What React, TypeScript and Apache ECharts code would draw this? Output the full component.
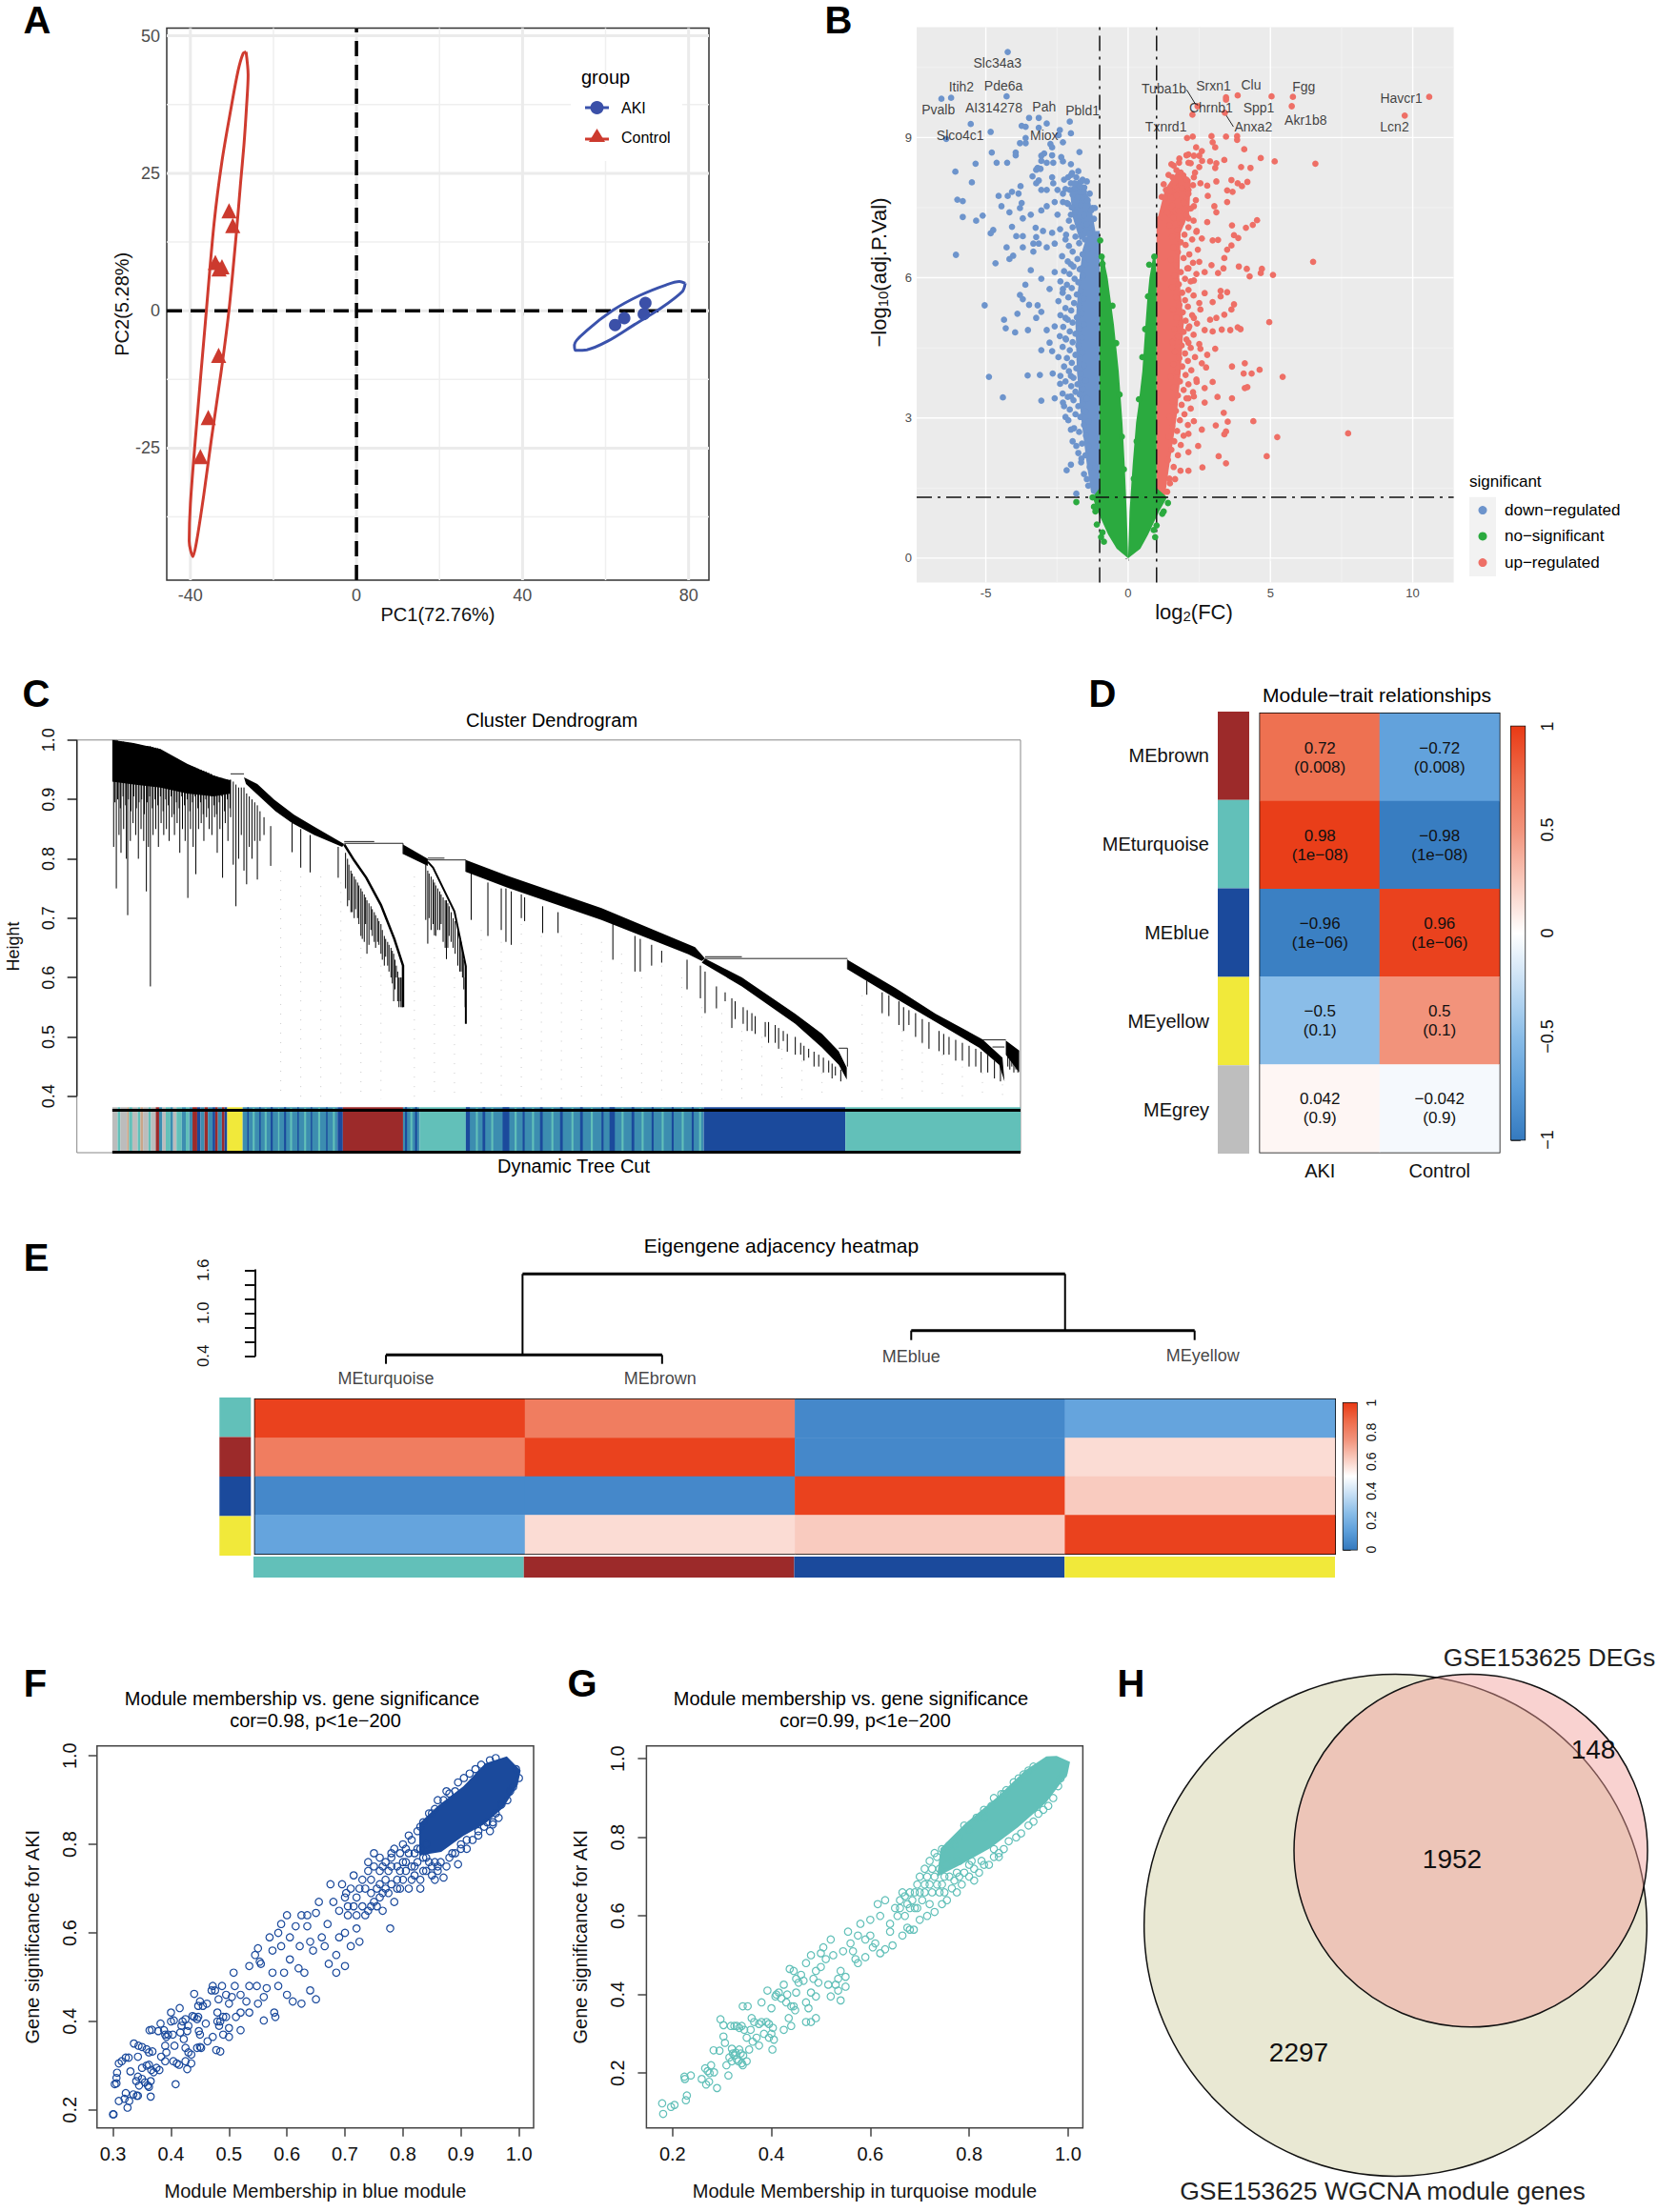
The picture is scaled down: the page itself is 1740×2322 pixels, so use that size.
import React, { useEffect, useRef } from "react";
import * as echarts from "echarts";

const FONT = "Liberation Sans";

// ---------- Panel A ----------
const pcaControl = [[-30.7, 18.2], [-29.8, 15.5], [-34, 8.8], [-32.4, 8.0], [-33.1, 7.6], [-33.2, -8.1], [-35.7, -19.4], [-37.6, -26.5]];
const pcaAki = [[62.3, -2.6], [64.5, -1.35], [69.2, -0.6], [69.6, 1.4]];
const ellipseControl = [[-26.6, 47.1], [-26.1, 42.9], [-26.5, 36.9], [-27.1, 30.2], [-27.9, 23.4], [-28.9, 14.4], [-30.7, 0.15], [-32.6, -11.1], [-34.9, -23.1], [-36.8, -33.6], [-38.5, -41.9], [-39.4, -44.7], [-40.3, -41.9], [-40, -35.1], [-38.7, -22.4], [-36.4, -2.1], [-34.3, 15.9], [-32.4, 27.2], [-30.2, 36.9], [-28.5, 43.7], [-27.3, 46.8], [-26.6, 47.1]];
const ellipseAki = [[79.2, 5.0], [78.5, 3.5], [73.4, 0.5], [67.0, -2.5], [60.6, -5.5], [55.5, -7.1], [52.7, -7.2], [52.5, -6.2], [55.5, -3.6], [61.9, 0.15], [68.3, 2.8], [74.6, 4.7], [77.8, 5.3], [79.2, 5.0]];

// ---------- Panel B ----------
const volcanoDown = [[-4.23, 10.83], [-6.22, 9.85], [-6.56, 9.83], [-4.27, 9.88], [-5.53, 9.29], [-4.83, 9.12], [-6.39, 8.97], [-3.48, 9.42], [-3.14, 9.42], [-2.86, 9.3], [-3.74, 9.25], [-3.6, 9.23], [-3.14, 9.21], [-2.05, 9.34], [-2.01, 9.09], [-2.4, 9.16], [-2.44, 9.05], [-3.6, 8.99], [-3.8, 8.88], [-3.6, 8.88], [-2.73, 8.86], [-2.67, 8.79], [-2.29, 8.9], [-4.79, 8.68], [-3.95, 8.68], [-3.95, 8.62], [-3.05, 8.61], [-2.95, 8.66], [-2.67, 8.62], [-1.71, 8.69], [-5.36, 8.44], [-4.62, 8.46], [-4.25, 8.46], [-3.05, 8.5], [-2.86, 8.46], [-2.63, 8.46], [-2.35, 8.58], [-2.29, 8.49], [-2.01, 8.43], [-6.07, 8.27], [-3.18, 8.35], [-3.23, 8.31], [-3.08, 8.33], [-3.36, 8.17], [-2.67, 8.15], [-1.97, 8.24], [-5.49, 8.04], [-3.78, 7.96], [-3.14, 8.08], [-3.23, 8.02], [-3.05, 7.88], [-2.86, 7.88], [-2.63, 8.02], [-2.48, 7.88], [-2.29, 7.8], [-2.01, 8.02], [-2.11, 8.15], [-1.82, 8.15], [-1.64, 8.06], [-1.45, 8.06], [-1.54, 7.93], [-1.82, 7.93], [-2.05, 7.88], [-4.08, 7.84], [-4.23, 7.75], [-4.55, 7.75], [-3.85, 7.8], [-6.0, 7.67], [-5.81, 7.64], [-4.45, 7.53], [-3.74, 7.6], [-3.8, 7.49], [-3.42, 7.35], [-2.86, 7.53], [-3.05, 7.44], [-2.58, 7.62], [-2.29, 7.62], [-2.11, 7.58], [-4.17, 7.4], [-3.7, 7.27], [-5.11, 7.33], [-5.34, 7.22], [-5.81, 7.3], [-2.48, 7.35], [-2.01, 7.35], [-1.64, 7.71], [-1.35, 7.8], [-1.26, 7.49], [-1.17, 7.49], [-3.25, 7.07], [-4.08, 7.09], [-4.74, 7.02], [-4.83, 6.95], [-3.93, 6.89], [-3.7, 6.89], [-2.99, 7.0], [-2.67, 6.96], [-2.39, 7.04], [-3.23, 6.87], [-3.33, 6.73], [-3.14, 6.73], [-4.27, 6.65], [-3.7, 6.65], [-6.05, 6.49], [-4.04, 6.47], [-4.17, 6.4], [-4.66, 6.31], [-3.33, 6.56], [-2.86, 6.65], [-2.58, 6.73], [-2.2, 6.82], [-3.42, 6.16], [-3.61, 5.85], [-3.05, 5.98], [-2.58, 6.12], [-2.01, 6.29], [-1.64, 6.2], [-3.8, 5.63], [-3.7, 5.54], [-3.48, 5.42], [-2.76, 5.76], [-2.29, 5.76], [-5.04, 5.41], [-3.18, 5.41], [-3.05, 5.27], [-3.89, 5.23], [-3.23, 5.14], [-4.36, 5.1], [-4.3, 4.92], [-3.97, 4.83], [-3.52, 4.88], [-2.86, 4.88], [-2.58, 4.96], [-2.2, 5.14], [-2.76, 4.61], [-3.05, 4.45], [-2.67, 4.43], [-2.2, 4.7], [-4.89, 3.88], [-3.53, 3.91], [-3.1, 3.92], [-2.65, 3.95], [-2.39, 3.73], [-2.01, 3.9], [-4.4, 3.44], [-3.05, 3.37], [-2.58, 3.42], [-2.29, 3.33], [-2.01, 3.46], [-2.2, 3.02], [-2.01, 2.75], [-1.82, 2.4], [-2.01, 2.0], [-2.16, 1.88], [-1.82, 1.38], [-1.64, 2.13], [-1.45, 1.69],
[-1.4, 1.55], [-1.55, 1.8], [-1.35, 1.95], [-1.65, 2.05], [-1.5, 2.2], [-1.75, 2.25], [-1.4, 2.4], [-1.62, 2.45], [-1.95, 2.5], [-1.48, 2.62], [-1.72, 2.7], [-1.9, 2.78], [-1.55, 2.85], [-1.38, 2.92], [-2.1, 2.95], [-1.68, 3.02], [-1.85, 3.08], [-1.5, 3.14], [-2.05, 3.18], [-1.75, 3.25], [-1.6, 3.3], [-2.25, 3.25], [-1.92, 3.38], [-1.45, 3.42], [-2.12, 3.45], [-1.7, 3.5], [-1.85, 3.56], [-2.3, 3.52], [-1.58, 3.62], [-2.0, 3.68], [-1.78, 3.72], [-2.2, 3.78], [-1.5, 3.8], [-1.92, 3.86], [-2.38, 3.9], [-1.65, 3.95], [-2.08, 4.0], [-1.82, 4.06], [-1.55, 4.12], [-2.25, 4.1], [-1.98, 4.18], [-1.7, 4.25], [-2.15, 4.28], [-2.45, 4.3], [-1.85, 4.35], [-1.6, 4.4], [-2.05, 4.45], [-2.3, 4.52], [-1.75, 4.55], [-1.95, 4.62], [-2.18, 4.68], [-1.62, 4.72], [-2.4, 4.75], [-1.85, 4.8], [-2.05, 4.85], [-1.72, 4.92], [-2.28, 4.95], [-1.55, 5.0], [-1.95, 5.04], [-2.12, 5.1], [-1.8, 5.15], [-2.38, 5.2], [-1.62, 5.24], [-2.0, 5.3], [-2.2, 5.35], [-1.72, 5.4], [-1.9, 5.46], [-2.45, 5.5], [-1.55, 5.55], [-2.1, 5.58], [-1.8, 5.64], [-2.3, 5.68], [-1.65, 5.72], [-1.98, 5.78], [-2.15, 5.85], [-1.75, 5.9], [-2.38, 5.92], [-1.88, 5.98], [-1.58, 6.04], [-2.06, 6.08], [-2.25, 6.14], [-1.7, 6.18], [-1.92, 6.24], [-1.5, 6.3], [-2.12, 6.35], [-1.78, 6.4], [-2.32, 6.46], [-1.6, 6.5], [-1.95, 6.56], [-1.42, 6.62], [-2.08, 6.68], [-1.72, 6.74], [-1.52, 6.82], [-1.85, 6.88], [-2.18, 6.92], [-1.35, 6.95], [-1.65, 7.02], [-1.95, 7.08], [-1.45, 7.14], [-1.75, 7.2], [-1.2, 7.26], [-2.08, 7.22], [-1.55, 7.34], [-1.85, 7.4], [-1.3, 7.44], [-1.98, 7.5], [-1.65, 7.55], [-2.15, 7.6], [-1.42, 7.66], [-1.78, 7.72], [-1.95, 7.78], [-1.55, 7.84], [-2.2, 7.9], [-1.7, 7.96], [-1.88, 8.02], [-1.6, 8.1], [-2.0, 8.2], [-1.75, 8.28], [-2.25, 8.1]];
const volcanoUp = [[10.58, 9.87], [9.72, 9.47], [5.79, 9.87], [5.75, 9.67], [5.04, 9.88], [3.85, 9.9], [3.44, 9.86], [3.44, 9.81], [3.4, 9.53], [2.44, 9.67], [2.26, 9.49], [6.58, 8.44], [2.07, 8.99], [2.27, 9.02], [2.93, 9.03], [3.44, 9.02], [3.83, 9.03], [3.83, 8.95], [2.97, 8.9], [3.06, 8.79], [2.39, 8.79], [4.08, 8.75], [2.59, 8.71], [2.12, 8.64], [2.31, 8.61], [2.5, 8.61], [2.88, 8.49], [3.38, 8.52], [3.1, 8.45], [4.66, 8.56], [5.15, 8.49], [3.97, 8.37], [4.3, 8.35], [3.06, 8.35], [1.52, 8.43], [1.79, 8.46], [2.12, 8.46], [2.5, 8.37], [1.56, 8.15], [1.94, 8.19], [2.31, 8.15], [2.54, 8.02], [3.1, 8.06], [3.63, 8.09], [3.85, 8.02], [4.19, 8.05], [4.0, 7.96], [2.78, 7.97], [1.33, 7.88], [1.65, 7.97], [2.12, 7.88], [3.48, 7.87], [3.67, 7.84], [2.8, 7.75], [1.18, 7.73], [1.56, 7.71], [1.94, 7.62], [2.31, 7.53], [3.48, 7.62], [3.03, 7.53], [3.1, 7.4], [2.78, 7.19], [4.53, 7.23], [4.38, 7.13], [4.14, 7.07], [3.65, 7.12], [2.12, 7.27], [1.47, 7.35], [1.84, 7.18], [2.41, 7.0], [3.72, 6.91], [3.87, 6.85], [3.16, 6.81], [2.97, 6.8], [2.59, 6.84], [3.63, 6.69], [3.48, 6.6], [3.38, 6.42], [6.5, 6.34], [5.09, 6.06], [4.7, 6.19], [4.66, 6.1], [4.17, 6.19], [3.89, 6.24], [4.27, 6.03], [3.35, 6.2], [3.16, 6.1], [2.93, 6.27], [2.5, 6.34], [2.69, 6.12], [2.12, 6.2], [2.31, 5.94], [3.25, 5.72], [3.48, 5.69], [3.25, 5.6], [2.69, 5.67], [2.97, 5.48], [3.72, 5.43], [3.63, 5.32], [3.38, 5.21], [3.1, 5.14], [2.88, 5.1], [2.54, 5.32], [2.31, 5.14], [4.96, 5.05], [3.85, 4.94], [3.95, 4.9], [3.59, 4.88], [3.29, 4.89], [2.97, 4.85], [2.69, 4.88], [2.12, 4.92], [3.06, 4.48], [2.54, 4.48], [2.78, 4.35], [2.12, 4.61], [3.65, 4.1], [4.1, 4.17], [2.59, 4.17], [2.74, 4.08], [4.06, 3.95], [4.34, 3.95], [4.62, 4.03], [5.43, 3.88], [4.19, 3.66], [4.1, 3.64], [2.97, 3.77], [2.41, 3.77], [2.69, 3.64], [2.31, 3.46], [3.14, 3.45], [3.65, 3.42], [2.69, 3.33], [2.12, 3.42], [3.36, 3.11], [4.4, 2.93], [3.5, 2.92], [3.08, 2.84], [3.44, 2.71], [3.38, 2.65], [7.73, 2.67], [5.24, 2.59], [2.59, 2.75], [2.31, 2.93], [2.12, 2.66], [2.46, 2.4], [2.12, 2.27], [4.87, 2.18], [3.18, 2.18], [3.44, 2.03], [2.61, 1.94], [2.12, 1.87], [1.84, 1.87], [1.65, 1.69], [1.47, 1.6], [1.37, 1.42],
[1.45, 1.7], [1.6, 1.95], [1.4, 2.1], [1.75, 2.2], [1.52, 2.32], [1.85, 2.42], [1.62, 2.5], [1.42, 2.6], [1.95, 2.62], [1.72, 2.72], [1.55, 2.82], [2.1, 2.85], [1.82, 2.95], [1.45, 3.02], [1.98, 3.08], [1.68, 3.15], [2.2, 3.2], [1.88, 3.28], [1.55, 3.35], [2.05, 3.42], [1.75, 3.48], [2.28, 3.55], [1.95, 3.6], [1.6, 3.65], [2.12, 3.72], [1.82, 3.78], [2.4, 3.82], [1.5, 3.88], [2.02, 3.92], [1.72, 3.98], [2.22, 4.02], [1.9, 4.1], [1.58, 4.15], [2.1, 4.22], [1.8, 4.28], [2.35, 4.3], [2.0, 4.38], [1.65, 4.42], [2.2, 4.5], [1.88, 4.55], [2.5, 4.58], [1.55, 4.62], [2.05, 4.68], [1.75, 4.74], [2.3, 4.78], [1.95, 4.84], [1.62, 4.9], [2.15, 4.96], [1.85, 5.02], [2.42, 5.02], [2.02, 5.08], [1.7, 5.14], [2.25, 5.2], [1.92, 5.26], [1.58, 5.32], [2.1, 5.38], [1.8, 5.42], [2.5, 5.46], [2.0, 5.52], [1.68, 5.58], [2.3, 5.62], [1.9, 5.68], [2.12, 5.74], [1.55, 5.8], [1.78, 5.86], [2.2, 5.92], [2.0, 5.98], [1.62, 6.04], [2.4, 6.08], [1.85, 6.12], [2.08, 6.2], [1.7, 6.26], [2.28, 6.32], [1.5, 6.38], [1.95, 6.42], [2.15, 6.5], [1.75, 6.55], [2.45, 6.6], [1.6, 6.65], [2.02, 6.7], [1.85, 6.76], [2.25, 6.82], [1.55, 6.88], [1.98, 6.92], [2.4, 6.98], [1.72, 7.02], [2.12, 7.08], [1.45, 7.12], [1.88, 7.18], [2.3, 7.22], [1.6, 7.28], [2.05, 7.34], [1.38, 7.4], [1.78, 7.42], [2.2, 7.48], [1.55, 7.54], [1.95, 7.6], [2.38, 7.66], [1.3, 7.7], [1.7, 7.76], [2.12, 7.8], [1.48, 7.85], [1.9, 7.92], [2.28, 7.98], [1.25, 8.0], [1.65, 8.05], [2.05, 8.1], [1.42, 8.2], [1.85, 8.25], [2.35, 8.25], [1.7, 8.3], [1.6, 8.4], [2.2, 8.45], [2.6, 8.5], [1.8, 8.55], [2.05, 8.62]];
const volcanoNs = [[-1.82, 1.2], [-1.25, 1.3], [-1.2, 1.1], [-1.1, 0.72], [-0.95, 0.45], [-0.85, 0.35], [-0.9, 0.55], [1.4, 1.18], [1.25, 1.0], [1.2, 0.95], [1.0, 0.7], [0.95, 0.45], [0.9, 0.6], [-1.15, 1.0], [-0.98, 6.8], [-0.93, 6.45], [-0.9, 6.3], [0.92, 6.45], [0.74, 6.28], [0.7, 5.6], [0.6, 4.9], [-0.55, 5.4], [-0.42, 4.6], [0.5, 4.3], [-0.3, 3.5], [0.38, 3.4], [-0.22, 2.6], [0.3, 2.5], [-0.15, 1.9], [0.2, 1.7]];
const downBand = [[-1, 1.3], [-1.3, 1.4], [-1.45, 2], [-1.65, 3], [-1.8, 4], [-1.85, 5], [-1.75, 5.8], [-1.6, 6.6], [-1.4, 7.0], [-1, 7.0]];
const downBlob = [[-1.15, 7.0], [-1.35, 7.7], [-1.75, 8.1], [-2.05, 7.9], [-1.95, 7.3], [-1.7, 6.8]];
const upBand = [[1, 1.3], [1.3, 1.35], [1.45, 2], [1.7, 3], [1.85, 4], [1.95, 5], [1.8, 6], [1.85, 7], [1.5, 7.4], [1, 7.3]];
const upBlob = [[1.05, 7.3], [1.3, 7.9], [1.75, 8.3], [2.2, 8.1], [2.15, 7.4], [1.8, 6.9]];
const nsBandLeft = [[0, 0], [-0.4, 0.2], [-0.7, 0.5], [-1.07, 1], [-1.25, 1.3], [-1, 1.5], [-1, 5.9], [-0.95, 6.5], [-0.89, 6.5], [-0.72, 6], [-0.61, 5.5], [-0.5, 5], [-0.33, 4], [-0.2, 2.9], [-0.12, 2], [-0.05, 1]];
const nsBandRight = [[0, 0], [0.05, 1], [0.16, 2], [0.28, 2.9], [0.36, 3.25], [0.5, 4], [0.61, 5], [0.67, 5.5], [0.75, 6], [0.89, 6.5], [0.96, 6.47], [1.0, 6], [1.0, 1.5], [1.37, 1.3], [1.09, 1], [0.7, 0.5], [0.43, 0.2]];
const geneNames = ["Slc34a3", "Itih2", "Pde6a", "Pvalb", "AI314278", "Pah", "Pbld1", "Slco4c1", "Miox", "Tuba1b", "Srxn1", "Clu", "Fgg", "Chrnb1", "Spp1", "Havcr1", "Akr1b8", "Lcn2", "Anxa2", "Txnrd1"];
const genePositions = [[-4.59, 10.59], [-5.86, 10.09], [-4.38, 10.1], [-6.67, 9.59], [-4.72, 9.63], [-2.95, 9.65], [-1.6, 9.57], [-5.9, 9.05], [-2.95, 9.05], [1.26, 10.04], [3.0, 10.1], [4.32, 10.12], [6.17, 10.09], [2.91, 9.64], [4.59, 9.64], [9.6, 9.85], [6.24, 9.38], [9.36, 9.23], [4.4, 9.23], [1.33, 9.23]];

// ---------- Panel C ----------
const branchTop = [[168, 1.0], [200, 0.995], [240, 0.985], [280, 0.96], [320, 0.94], [345, 0.932], [345, 0.91], [320, 0.905], [280, 0.91], [240, 0.92], [200, 0.925], [168, 0.93]];
const branch1 = [[365, 0.937], [385, 0.926], [410, 0.9], [440, 0.874], [470, 0.854], [515, 0.825], [512, 0.82], [470, 0.84], [437, 0.86], [412, 0.88], [390, 0.903], [368, 0.926]];
const branch2 = [[603, 0.824], [640, 0.8], [640, 0.788], [603, 0.808]];
const branch3 = [[697, 0.798], [760, 0.771], [900, 0.717], [1040, 0.651], [1055, 0.632], [1050, 0.628], [1030, 0.639], [900, 0.697], [760, 0.751], [697, 0.778]];
const branch4 = [[1055, 0.632], [1110, 0.6], [1190, 0.539], [1230, 0.505], [1255, 0.476], [1267, 0.448], [1267, 0.428], [1255, 0.453], [1230, 0.482], [1190, 0.522], [1110, 0.585], [1050, 0.625]];
const branch5 = [[1268, 0.63], [1340, 0.582], [1400, 0.539], [1470, 0.496], [1500, 0.465], [1503, 0.425], [1495, 0.453], [1465, 0.482], [1400, 0.525], [1340, 0.565], [1268, 0.614]];
const branch6 = [[1505, 0.494], [1525, 0.477], [1525, 0.44], [1515, 0.455], [1505, 0.47]];
const tail1 = [[515, 0.824], [530, 0.797], [548, 0.768], [570, 0.722], [590, 0.665], [603, 0.62], [603, 0.55]];
const tail2 = [[640, 0.795], [648, 0.785], [680, 0.711], [697, 0.619], [697, 0.522]];
const hangLines = [[170, 1, 0.82], [174, 1, 0.75], [178, 0.998, 0.84], [181, 0.998, 0.81], [185, 0.997, 0.85], [189, 0.996, 0.8], [191, 0.996, 0.705], [195, 0.995, 0.83], [199, 0.994, 0.86], [203, 0.993, 0.84], [207, 0.992, 0.8], [211, 0.991, 0.85], [215, 0.99, 0.83], [219, 0.99, 0.745], [222, 0.99, 0.82], [225, 0.99, 0.585], [229, 0.988, 0.84], [233, 0.987, 0.85], [237, 0.985, 0.82], [241, 0.983, 0.86], [245, 0.98, 0.84], [249, 0.977, 0.85], [253, 0.975, 0.83], [257, 0.972, 0.87], [261, 0.97, 0.84], [265, 0.968, 0.86], [269, 0.965, 0.81], [273, 0.962, 0.85], [277, 0.96, 0.83], [281, 0.958, 0.734], [285, 0.956, 0.85], [289, 0.955, 0.82], [293, 0.953, 0.774], [297, 0.951, 0.85], [301, 0.95, 0.86], [305, 0.948, 0.83], [309, 0.946, 0.87], [313, 0.944, 0.85], [317, 0.942, 0.84], [321, 0.94, 0.87], [325, 0.938, 0.81], [329, 0.937, 0.85], [333, 0.935, 0.768], [337, 0.934, 0.86], [341, 0.933, 0.83], [345, 0.933, 0.87], [349, 0.93, 0.79], [353, 0.925, 0.72], [357, 0.92, 0.8], [361, 0.92, 0.84], [365, 0.92, 0.78], [369, 0.91, 0.757], [373, 0.905, 0.82], [377, 0.9, 0.8], [381, 0.895, 0.83], [385, 0.89, 0.765], [389, 0.88, 0.83], [395, 0.87, 0.84], [405, 0.855, 0.788], [437, 0.86, 0.811], [450, 0.85, 0.785], [464, 0.84, 0.777], [506, 0.82, 0.768],
[172, 1, 0.895], [176, 0.999, 0.9], [180, 0.998, 0.885], [184, 0.997, 0.905], [188, 0.996, 0.89], [192, 0.995, 0.9], [196, 0.995, 0.88], [200, 0.994, 0.905], [204, 0.993, 0.885], [208, 0.992, 0.895], [212, 0.991, 0.9], [216, 0.99, 0.875], [220, 0.99, 0.895], [224, 0.989, 0.905], [228, 0.988, 0.885], [232, 0.987, 0.9], [236, 0.986, 0.89], [240, 0.984, 0.905], [244, 0.981, 0.88], [248, 0.978, 0.9], [252, 0.976, 0.89], [256, 0.973, 0.905], [260, 0.971, 0.875], [264, 0.969, 0.895], [268, 0.966, 0.885], [272, 0.963, 0.905], [276, 0.961, 0.89], [280, 0.959, 0.9], [284, 0.957, 0.88], [288, 0.955, 0.895], [292, 0.954, 0.905], [296, 0.952, 0.885], [300, 0.95, 0.895], [304, 0.948, 0.875], [308, 0.947, 0.9], [312, 0.945, 0.885], [316, 0.943, 0.905], [320, 0.94, 0.89], [324, 0.939, 0.875], [328, 0.937, 0.895], [332, 0.936, 0.905], [336, 0.934, 0.88], [340, 0.933, 0.9], [344, 0.933, 0.885],
[520, 0.8, 0.72], [525, 0.78, 0.71], [530, 0.77, 0.7], [535, 0.76, 0.7], [540, 0.75, 0.67], [545, 0.74, 0.66], [549, 0.73, 0.64], [555, 0.72, 0.68], [560, 0.71, 0.66], [565, 0.7, 0.66], [570, 0.69, 0.64], [575, 0.67, 0.62], [580, 0.66, 0.62], [585, 0.65, 0.6], [589, 0.64, 0.56], [593, 0.62, 0.6], [597, 0.6, 0.55], [600, 0.6, 0.55], [602, 0.6, 0.55],
[517, 0.81, 0.75], [522, 0.79, 0.73], [527, 0.775, 0.71], [532, 0.765, 0.715], [537, 0.755, 0.69], [542, 0.745, 0.665], [547, 0.735, 0.69], [552, 0.725, 0.655], [557, 0.715, 0.67], [562, 0.705, 0.65], [567, 0.695, 0.655], [572, 0.68, 0.63], [577, 0.665, 0.635], [582, 0.655, 0.61], [587, 0.645, 0.59], [591, 0.63, 0.58], [595, 0.61, 0.56], [599, 0.6, 0.56],
[637, 0.79, 0.697], [640, 0.78, 0.657], [650, 0.76, 0.671], [655, 0.75, 0.68], [660, 0.74, 0.69], [668, 0.73, 0.631], [672, 0.72, 0.67], [678, 0.7, 0.65], [685, 0.68, 0.62], [690, 0.66, 0.61], [694, 0.63, 0.58], [696, 0.6, 0.55],
[642, 0.775, 0.7], [645, 0.77, 0.68], [648, 0.765, 0.69], [652, 0.755, 0.67], [658, 0.745, 0.68], [663, 0.735, 0.66], [666, 0.73, 0.65], [670, 0.725, 0.65], [675, 0.71, 0.66], [681, 0.695, 0.64], [688, 0.67, 0.61], [692, 0.65, 0.6],
[705, 0.78, 0.697], [730, 0.76, 0.67], [750, 0.75, 0.68], [757, 0.75, 0.66], [765, 0.745, 0.655], [780, 0.74, 0.7], [785, 0.735, 0.695], [812, 0.72, 0.675], [835, 0.71, 0.675], [917, 0.69, 0.63], [950, 0.67, 0.61], [958, 0.665, 0.61], [975, 0.655, 0.62], [990, 0.645, 0.625], [1028, 0.63, 0.58], [1048, 0.62, 0.565], [1055, 0.61, 0.54],
[1072, 0.585, 0.548], [1085, 0.575, 0.56], [1095, 0.565, 0.515], [1112, 0.55, 0.522], [1125, 0.54, 0.51], [1145, 0.525, 0.5], [1160, 0.52, 0.49], [1172, 0.51, 0.493], [1198, 0.49, 0.47], [1210, 0.48, 0.465], [1225, 0.47, 0.45], [1240, 0.46, 0.44], [1250, 0.45, 0.435],
[1100, 0.56, 0.53], [1118, 0.545, 0.51], [1130, 0.535, 0.505], [1150, 0.525, 0.49], [1165, 0.515, 0.48], [1178, 0.505, 0.475], [1190, 0.5, 0.47], [1203, 0.485, 0.46], [1218, 0.475, 0.45], [1232, 0.465, 0.44], [1245, 0.455, 0.43], [1258, 0.445, 0.425],
[1297, 0.595, 0.571], [1320, 0.575, 0.54], [1345, 0.56, 0.52], [1360, 0.545, 0.52], [1380, 0.53, 0.49], [1405, 0.51, 0.476], [1420, 0.5, 0.47], [1440, 0.49, 0.46], [1460, 0.48, 0.45],
[1330, 0.57, 0.535], [1352, 0.55, 0.51], [1370, 0.54, 0.5], [1390, 0.525, 0.48], [1412, 0.505, 0.47], [1430, 0.495, 0.46], [1450, 0.485, 0.45], [1468, 0.475, 0.44], [1478, 0.47, 0.44], [1488, 0.46, 0.43], [1497, 0.455, 0.425],
[1508, 0.48, 0.45], [1511, 0.48, 0.445], [1514, 0.47, 0.45], [1517, 0.47, 0.44], [1520, 0.47, 0.445], [1523, 0.47, 0.44]];
const joinLines = [[515, 0.826, 603, 0.826], [515, 0.829, 560, 0.829], [640, 0.798, 697, 0.798], [640, 0.801, 665, 0.801], [1055, 0.632, 1268, 0.632], [1055, 0.635, 1110, 0.635], [345, 0.943, 365, 0.943], [1470, 0.495, 1505, 0.495], [1485, 0.483, 1503, 0.483], [1255, 0.481, 1268, 0.481], [1268, 0.481, 1268, 0.45], [1268, 0.63, 1268, 0.614], [603, 0.826, 603, 0.808], [697, 0.798, 697, 0.778]];
const guideLines = [[420, 0.78], [450, 0.77], [480, 0.77], [510, 0.76], [540, 0.65], [570, 0.62], [620, 0.77], [650, 0.65], [680, 0.6], [720, 0.68], [750, 0.66], [780, 0.69], [810, 0.67], [840, 0.67], [870, 0.69], [900, 0.66], [930, 0.64], [960, 0.6], [990, 0.62], [1020, 0.6], [1050, 0.55], [1080, 0.54], [1110, 0.51], [1140, 0.5], [1170, 0.48], [1200, 0.46], [1230, 0.44], [1290, 0.57], [1320, 0.54], [1350, 0.51], [1380, 0.49], [1410, 0.47], [1440, 0.45], [1470, 0.44], [1500, 0.42]];
const stripSegments: [number, number, string][] = [[168, 176, "G"], [176, 180, "T"], [180, 190, "G"], [190, 193, "O"], [193, 198, "T"], [198, 206, "G"], [206, 210, "T"], [210, 214, "O"], [214, 222, "G"], [222, 226, "T"], [226, 233, "G"], [233, 238, "R"], [238, 243, "M"], [243, 248, "G"], [248, 255, "T"], [255, 259, "M"], [259, 264, "G"], [264, 272, "T"], [272, 278, "M"], [278, 283, "T"], [283, 288, "M"], [288, 295, "R"], [295, 300, "B"], [300, 306, "M"], [306, 311, "R"], [311, 318, "M"], [318, 322, "B"], [322, 326, "R"], [326, 332, "M"], [332, 336, "R"], [336, 340, "B"], [340, 363, "Y"], [363, 505, "M"], [370, 372, "B"], [378, 381, "T"], [388, 390, "B"], [396, 399, "T"], [405, 408, "B"], [416, 418, "T"], [425, 428, "B"], [434, 437, "T"], [445, 447, "B"], [455, 458, "T"], [465, 467, "B"], [476, 479, "T"], [488, 490, "B"], [498, 501, "T"], [505, 513, "B"], [513, 603, "R"], [603, 628, "M"], [606, 609, "B"], [614, 617, "T"], [621, 624, "B"], [628, 697, "T"], [697, 1053, "M"], [697, 703, "B"], [712, 715, "T"], [722, 726, "B"], [735, 738, "T"], [752, 762, "B"], [770, 773, "T"], [782, 785, "B"], [796, 799, "T"], [808, 812, "B"], [825, 828, "T"], [838, 842, "B"], [855, 858, "T"], [868, 872, "B"], [884, 887, "T"], [900, 903, "B"], [912, 920, "B"], [930, 933, "T"], [945, 949, "B"], [960, 963, "T"], [975, 978, "B"], [990, 993, "T"], [1005, 1008, "B"], [1020, 1023, "T"], [1035, 1038, "B"], [1046, 1049, "T"], [1053, 1265, "B"], [1265, 1527, "T"]];

// ---------- Panel D ----------
const modulesD = ["MEbrown", "MEturquoise", "MEblue", "MEyellow", "MEgrey"];
const modulesDColors = ["#9C2A2A", "#62C0B9", "#1B4A9C", "#F1E93A", "#BEBEBE"];
const traits = ["AKI", "Control"];
const correlations = [[0.72, -0.72], [0.98, -0.98], [-0.96, 0.96], [-0.5, 0.5], [0.042, -0.042]];
const corTexts = [["0.72", "−0.72"], ["0.98", "−0.98"], ["−0.96", "0.96"], ["−0.5", "0.5"], ["0.042", "−0.042"]];
const pTexts = [["0.008", "0.008"], ["1e−08", "1e−08"], ["1e−06", "1e−06"], ["0.1", "0.1"], ["0.9", "0.9"]];
const heatStops = ["#357ABF", "#5C9EDA", "#8ABDE8", "#C5DEF4", "#FFFFFF", "#F9C9BC", "#F2937B", "#EE6C4B", "#E93A15"];

// ---------- Panel E ----------
const modulesE = ["MEturquoise", "MEbrown", "MEblue", "MEyellow"];
const modulesEColors = ["#62C0B9", "#9C2A2A", "#1B4A9C", "#F1E93A"];
const adjacency = [[0.98, 0.82, 0.05, 0.15], [0.82, 0.98, 0.05, 0.58], [0.05, 0.05, 0.98, 0.62], [0.15, 0.58, 0.62, 0.98]];
const treeThick = [[0.99, 1.547, 3.0, 1.547], [0.484, 0.413, 1.507, 0.413], [2.43, 0.755, 3.48, 0.755]];
const treeThin = [[0.99, 1.547, 0.99, 0.413], [3.0, 1.547, 3.0, 0.755], [0.484, 0.413, 0.484, 0.288], [1.507, 0.413, 1.507, 0.288], [2.43, 0.755, 2.43, 0.621], [3.48, 0.755, 3.48, 0.621]];
const treeLabelPos = [[0.484, 0.084], [1.5, 0.088], [2.43, 0.387], [3.51, 0.4]];

// ---------- Panel F ----------
const ringsF = [[0.3, 0.19], [0.301, 0.19], [0.303, 0.258], [0.306, 0.26], [0.306, 0.272], [0.307, 0.284], [0.31, 0.305], [0.315, 0.31], [0.31, 0.22], [0.32, 0.225], [0.325, 0.205], [0.322, 0.238], [0.328, 0.22], [0.335, 0.235], [0.341, 0.232], [0.343, 0.232], [0.322, 0.318], [0.327, 0.318], [0.33, 0.287], [0.336, 0.35], [0.344, 0.345], [0.35, 0.342], [0.343, 0.32], [0.35, 0.295], [0.343, 0.275], [0.34, 0.265], [0.345, 0.255], [0.35, 0.27], [0.355, 0.262], [0.36, 0.255], [0.362, 0.252], [0.365, 0.23], [0.358, 0.3], [0.362, 0.302], [0.366, 0.29], [0.37, 0.285], [0.358, 0.337], [0.362, 0.33], [0.368, 0.332], [0.365, 0.265], [0.375, 0.295], [0.38, 0.29], [0.383, 0.32], [0.39, 0.31],
[0.363, 0.38], [0.367, 0.381], [0.378, 0.378], [0.382, 0.395], [0.388, 0.38], [0.39, 0.37], [0.392, 0.365], [0.395, 0.37], [0.39, 0.345], [0.392, 0.33], [0.4, 0.42], [0.4, 0.4], [0.405, 0.402], [0.403, 0.37], [0.406, 0.345], [0.404, 0.31], [0.41, 0.305], [0.408, 0.258], [0.414, 0.302], [0.415, 0.43], [0.416, 0.375], [0.418, 0.39], [0.42, 0.4], [0.422, 0.36], [0.425, 0.405], [0.428, 0.378], [0.43, 0.39], [0.43, 0.33], [0.425, 0.34], [0.425, 0.31], [0.428, 0.292], [0.435, 0.305], [0.435, 0.325], [0.44, 0.41], [0.437, 0.412], [0.44, 0.462], [0.445, 0.405], [0.447, 0.41], [0.447, 0.435], [0.45, 0.445], [0.448, 0.378], [0.45, 0.37], [0.452, 0.34], [0.445, 0.34], [0.45, 0.342],
[0.455, 0.435], [0.46, 0.395], [0.462, 0.44], [0.463, 0.355], [0.47, 0.47], [0.472, 0.48], [0.472, 0.365], [0.476, 0.47], [0.478, 0.335], [0.48, 0.42], [0.48, 0.4], [0.482, 0.45], [0.483, 0.39], [0.485, 0.4], [0.485, 0.332], [0.488, 0.48], [0.49, 0.37], [0.49, 0.41], [0.495, 0.46], [0.495, 0.41], [0.5, 0.44], [0.5, 0.385], [0.5, 0.365], [0.505, 0.455], [0.508, 0.51], [0.51, 0.48], [0.512, 0.41], [0.52, 0.38], [0.52, 0.42], [0.52, 0.46], [0.53, 0.445], [0.535, 0.48], [0.535, 0.525], [0.535, 0.42], [0.545, 0.55], [0.548, 0.48], [0.55, 0.565], [0.55, 0.44], [0.553, 0.535], [0.555, 0.53], [0.56, 0.455], [0.56, 0.402], [0.565, 0.475], [0.57, 0.59], [0.575, 0.56], [0.575, 0.51], [0.578, 0.42], [0.58, 0.41],
[0.585, 0.6], [0.585, 0.48], [0.59, 0.62], [0.59, 0.57], [0.595, 0.51], [0.6, 0.64], [0.6, 0.46], [0.605, 0.59], [0.605, 0.54], [0.61, 0.445], [0.615, 0.615], [0.62, 0.52], [0.622, 0.57], [0.625, 0.64], [0.625, 0.44], [0.63, 0.51], [0.635, 0.64], [0.635, 0.615], [0.64, 0.58], [0.64, 0.47], [0.645, 0.56], [0.65, 0.45], [0.65, 0.645], [0.655, 0.67], [0.66, 0.59], [0.665, 0.57], [0.67, 0.62], [0.672, 0.53], [0.675, 0.71], [0.68, 0.67], [0.685, 0.55], [0.685, 0.51], [0.69, 0.65], [0.69, 0.59], [0.695, 0.71], [0.7, 0.6], [0.7, 0.525], [0.702, 0.69], [0.705, 0.66], [0.71, 0.57], [0.715, 0.73], [0.72, 0.68], [0.72, 0.61], [0.725, 0.58],
[0.73, 0.72], [0.735, 0.64], [0.74, 0.74], [0.745, 0.69], [0.75, 0.67], [0.75, 0.78], [0.755, 0.7], [0.76, 0.74], [0.765, 0.65], [0.77, 0.72], [0.775, 0.69], [0.778, 0.61], [0.78, 0.78], [0.78, 0.75], [0.785, 0.67], [0.79, 0.72], [0.79, 0.7], [0.795, 0.74], [0.8, 0.8], [0.805, 0.76], [0.81, 0.82], [0.815, 0.72], [0.82, 0.75], [0.825, 0.79], [0.83, 0.7], [0.83, 0.84], [0.835, 0.74], [0.84, 0.77], [0.85, 0.73], [0.855, 0.72], [0.86, 0.75], [0.87, 0.725], [0.875, 0.75], [0.88, 0.915], [0.85, 0.87], [0.9, 0.79], [0.91, 0.79], [0.895, 0.755], [0.955, 0.845], [0.945, 0.85], [0.93, 0.82],
[0.74, 0.76], [0.745, 0.72], [0.75, 0.75], [0.76, 0.71], [0.76, 0.77], [0.765, 0.75], [0.77, 0.76], [0.77, 0.7], [0.775, 0.74], [0.78, 0.71], [0.78, 0.77], [0.785, 0.79], [0.79, 0.75], [0.795, 0.7], [0.795, 0.78], [0.8, 0.72], [0.8, 0.76], [0.805, 0.74], [0.805, 0.79], [0.81, 0.7], [0.81, 0.78], [0.815, 0.75], [0.815, 0.81], [0.82, 0.73], [0.82, 0.78], [0.825, 0.76], [0.825, 0.83], [0.83, 0.72], [0.83, 0.79], [0.835, 0.77], [0.835, 0.85], [0.84, 0.74], [0.84, 0.8], [0.845, 0.76], [0.845, 0.87], [0.85, 0.75], [0.855, 0.76], [0.855, 0.88], [0.86, 0.74], [0.86, 0.9], [0.865, 0.76], [0.87, 0.9], [0.875, 0.92], [0.88, 0.77], [0.885, 0.78], [0.89, 0.78], [0.89, 0.92], [0.895, 0.94], [0.9, 0.8], [0.905, 0.95], [0.91, 0.81], [0.915, 0.96], [0.92, 0.81], [0.925, 0.97], [0.93, 0.83], [0.935, 0.98], [0.94, 0.84], [0.95, 0.83], [0.955, 0.85], [0.96, 0.87], [0.965, 0.86], [0.97, 0.89], [0.98, 0.9], [0.985, 0.92], [0.99, 0.93], [0.995, 0.97], [1.0, 0.95], [0.95, 0.99], [0.96, 0.995],
[0.7, 0.68], [0.705, 0.64], [0.71, 0.7], [0.715, 0.66], [0.72, 0.64], [0.725, 0.7], [0.73, 0.66], [0.735, 0.7], [0.74, 0.65], [0.745, 0.66], [0.755, 0.66], [0.76, 0.68], [0.765, 0.69]];
const denseF = [[0.828, 0.847], [0.86, 0.887], [0.904, 0.931], [0.942, 0.983], [0.979, 0.999], [1.003, 0.967], [0.998, 0.935], [0.973, 0.883], [0.942, 0.847], [0.904, 0.819], [0.866, 0.783], [0.828, 0.775]];

// ---------- Panel G ----------
const ringsG = [[0.179, 0.123], [0.181, 0.096], [0.197, 0.114], [0.204, 0.119], [0.229, 0.143], [0.227, 0.131], [0.224, 0.191], [0.225, 0.185], [0.237, 0.194], [0.259, 0.185], [0.268, 0.171], [0.274, 0.178], [0.266, 0.212], [0.271, 0.205], [0.278, 0.22], [0.275, 0.2], [0.284, 0.202], [0.29, 0.162], [0.283, 0.258], [0.295, 0.257], [0.303, 0.293], [0.306, 0.277], [0.313, 0.194], [0.309, 0.22], [0.297, 0.337], [0.303, 0.322],
[0.32, 0.262], [0.322, 0.25], [0.325, 0.245], [0.328, 0.252], [0.33, 0.235], [0.333, 0.23], [0.335, 0.26], [0.338, 0.25], [0.34, 0.225], [0.342, 0.22], [0.343, 0.245], [0.35, 0.23], [0.355, 0.26], [0.32, 0.23], [0.315, 0.24], [0.318, 0.32], [0.325, 0.32], [0.33, 0.32], [0.335, 0.315], [0.34, 0.32], [0.345, 0.31], [0.342, 0.37], [0.352, 0.37], [0.36, 0.34], [0.365, 0.33], [0.358, 0.31], [0.35, 0.29], [0.362, 0.28], [0.37, 0.29], [0.375, 0.27], [0.38, 0.38], [0.375, 0.325], [0.38, 0.33], [0.385, 0.3], [0.39, 0.33], [0.392, 0.41], [0.395, 0.325], [0.395, 0.29], [0.4, 0.3], [0.402, 0.26], [0.405, 0.285], [0.403, 0.315],
[0.4, 0.365], [0.408, 0.395], [0.41, 0.4], [0.415, 0.405], [0.42, 0.39], [0.425, 0.425], [0.43, 0.38], [0.432, 0.4], [0.435, 0.34], [0.425, 0.31], [0.44, 0.32], [0.44, 0.37], [0.445, 0.37], [0.448, 0.36], [0.45, 0.405], [0.455, 0.43], [0.437, 0.465], [0.445, 0.46], [0.45, 0.44], [0.46, 0.45], [0.465, 0.435], [0.47, 0.33], [0.47, 0.38], [0.475, 0.365], [0.48, 0.33], [0.48, 0.405], [0.485, 0.44], [0.49, 0.34], [0.49, 0.395], [0.495, 0.43], [0.47, 0.48], [0.48, 0.5], [0.49, 0.46], [0.5, 0.47], [0.5, 0.505], [0.505, 0.52], [0.51, 0.49], [0.515, 0.425], [0.52, 0.395],
[0.52, 0.54], [0.525, 0.5], [0.53, 0.425], [0.535, 0.41], [0.535, 0.44], [0.54, 0.385], [0.54, 0.46], [0.545, 0.51], [0.55, 0.42], [0.55, 0.445], [0.555, 0.56], [0.56, 0.53], [0.565, 0.51], [0.57, 0.49], [0.575, 0.48], [0.575, 0.55], [0.58, 0.58], [0.59, 0.495], [0.59, 0.54], [0.6, 0.59], [0.6, 0.55], [0.605, 0.52], [0.61, 0.53],
[0.615, 0.63], [0.62, 0.505], [0.62, 0.6], [0.63, 0.64], [0.63, 0.515], [0.64, 0.56], [0.64, 0.58], [0.645, 0.525], [0.65, 0.62], [0.655, 0.6], [0.66, 0.64], [0.665, 0.55], [0.67, 0.6], [0.675, 0.57], [0.68, 0.66], [0.68, 0.565], [0.688, 0.565], [0.69, 0.62], [0.695, 0.68], [0.7, 0.59], [0.71, 0.68], [0.715, 0.6], [0.72, 0.63], [0.725, 0.72], [0.73, 0.61], [0.735, 0.75], [0.74, 0.66], [0.745, 0.63], [0.75, 0.7], [0.755, 0.64], [0.76, 0.78], [0.765, 0.67], [0.775, 0.66], [0.78, 0.74], [0.8, 0.73], [0.81, 0.69], [0.83, 0.73], [0.85, 0.77], [0.86, 0.75], [0.77, 0.78], [0.8, 0.82], [0.83, 0.85], [0.85, 0.9], [0.87, 0.91], [0.9, 0.95], [0.92, 0.97],
[0.66, 0.62], [0.665, 0.66], [0.67, 0.65], [0.675, 0.63], [0.68, 0.62], [0.685, 0.64], [0.69, 0.66], [0.695, 0.62], [0.7, 0.7], [0.7, 0.66], [0.705, 0.64], [0.71, 0.72], [0.71, 0.66], [0.715, 0.7], [0.72, 0.68], [0.72, 0.74], [0.725, 0.66], [0.73, 0.7], [0.73, 0.76], [0.735, 0.68], [0.74, 0.72], [0.745, 0.68], [0.745, 0.77], [0.75, 0.66], [0.755, 0.73], [0.76, 0.7], [0.765, 0.74], [0.77, 0.69], [0.775, 0.71], [0.78, 0.7], [0.78, 0.8], [0.785, 0.68], [0.79, 0.71], [0.79, 0.83], [0.8, 0.7], [0.805, 0.74], [0.81, 0.72], [0.815, 0.85], [0.82, 0.71], [0.825, 0.74], [0.83, 0.87], [0.84, 0.73], [0.845, 0.88], [0.85, 0.75], [0.86, 0.76], [0.865, 0.91], [0.87, 0.77], [0.875, 0.92], [0.88, 0.79], [0.89, 0.94], [0.895, 0.8], [0.905, 0.81], [0.91, 0.96], [0.92, 0.83], [0.93, 0.84], [0.93, 0.98], [0.94, 0.86], [0.95, 0.87], [0.96, 0.88], [0.97, 0.9], [0.98, 0.93], [0.985, 0.95], [0.99, 0.96]];
const denseG = [[0.742, 0.772], [0.792, 0.835], [0.856, 0.902], [0.913, 0.97], [0.956, 1.006], [0.977, 1.007], [1.004, 0.992], [0.999, 0.961], [0.956, 0.889], [0.899, 0.826], [0.842, 0.772], [0.778, 0.727], [0.735, 0.7]];

// ---------- Panel H ----------
const vennLabels = ["2297", "1952", "148"];

// ---------- helpers ----------
const hiddenValue = (g: number, min: number, max: number) => ({ type: "value", gridIndex: g, min, max, show: false });
const hiddenCat = (g: number, data: string[], inverse = false) => ({ type: "category", gridIndex: g, data, show: false, inverse });
const seg = (g: number, rows: number[][], style: any) => ({
  type: "custom", coordinateSystem: "cartesian2d", xAxisIndex: g, yAxisIndex: g, silent: true, data: rows, encode: { x: [0, 2], y: [1, 3] },
  renderItem: (_: any, api: any) => {
    const a = api.coord([api.value(0), api.value(1)]);
    const b = api.coord([api.value(2), api.value(3)]);
    return { type: "line", shape: { x1: a[0], y1: a[1], x2: b[0], y2: b[1] }, style: { fill: null, ...style } };
  },
});
const poly = (g: number, pts: number[][], fill: string) => ({
  type: "custom", coordinateSystem: "cartesian2d", xAxisIndex: g, yAxisIndex: g, silent: true, data: pts, encode: { x: 0, y: 1 },
  renderItem: (p: any, api: any) => (p.dataIndex === 0 ? { type: "polygon", shape: { points: pts.map((q) => api.coord(q)) }, style: { fill } } : null),
});
const pline = (g: number, pts: number[][], stroke: string, lineWidth: number) => ({
  type: "custom", coordinateSystem: "cartesian2d", xAxisIndex: g, yAxisIndex: g, silent: true, data: pts, encode: { x: 0, y: 1 },
  renderItem: (p: any, api: any) => (p.dataIndex === 0 ? { type: "polyline", shape: { points: pts.map((q) => api.coord(q)) }, style: { stroke, lineWidth, fill: null } } : null),
});
const catStrip = (g: number, colors: string[], vertical: boolean) => ({
  type: "custom", coordinateSystem: "cartesian2d", xAxisIndex: g, yAxisIndex: g, silent: true,
  data: colors.map((_, i) => (vertical ? [0, i] : [i, 0])),
  renderItem: (p: any, api: any) => {
    const c = api.coord([api.value(0), api.value(1)]);
    const s = api.size([1, 1]);
    return { type: "rect", shape: { x: c[0] - s[0] / 2, y: c[1] - s[1] / 2, width: s[0], height: s[1] }, style: { fill: colors[p.dataIndex] } };
  },
});
const colorBar = (g: number, lo: number, hi: number, stops: string[]) => ({
  type: "custom", coordinateSystem: "cartesian2d", xAxisIndex: g, yAxisIndex: g, silent: true, data: [[0, lo, 1, hi]], encode: { x: [0, 2], y: [1, 3] },
  renderItem: (_: any, api: any) => {
    const a = api.coord([0, hi]);
    const b = api.coord([1, lo]);
    return {
      type: "rect", shape: { x: a[0], y: a[1], width: b[0] - a[0], height: b[1] - a[1] },
      style: { fill: new echarts.graphic.LinearGradient(0, 1, 0, 0, stops.map((color, i) => ({ offset: i / (stops.length - 1), color }))) },
    };
  },
});
const txt = (text: string, x: number, y: number, fontSize: number, o: any = {}) => ({
  type: "text", x, y, rotation: o.rotation || 0, z: 100,
  style: { text, rich: o.rich, fontFamily: FONT, fontSize, fontWeight: o.bold ? "bold" : "normal", fill: o.fill || "#000", align: o.align || "center", verticalAlign: "middle", textAlign: o.align || "center", textVerticalAlign: "middle" },
});
const letter = (t: string, x: number, y: number) => txt(t, x, y, 40, { bold: true });
const subRich = {
  a: { fontFamily: FONT, fontSize: 22, fill: "#111", color: "#111" },
  s: { fontFamily: FONT, fontSize: 15, fill: "#111", color: "#111", padding: [9, 0, 0, 0] },
};

function buildOption() {
  const grids = [
    { left: 175, top: 29.5, width: 569, height: 579.5, show: true, borderColor: "#333", borderWidth: 1.5 },
    { left: 962, top: 28.6, width: 563.6, height: 582.8, show: true, backgroundColor: "#EBEBEB", borderWidth: 0 },
    { left: 80.7, top: 776.8, width: 990.3, height: 433.2, show: true, borderColor: "#888", borderWidth: 1 },
    { left: 1278, top: 747, width: 33, height: 464 },
    { left: 1322.5, top: 749, width: 251, height: 460.6, show: true, borderColor: "#000", borderWidth: 2 },
    { left: 1585.8, top: 762.5, width: 14.6, height: 434, show: true, borderColor: "#111", borderWidth: 1.5 },
    { left: 245.3, top: 1333.3, width: 1155.7, height: 90 },
    { left: 230.3, top: 1467, width: 33, height: 166 },
    { left: 267.7, top: 1469, width: 1133.3, height: 162, show: true, borderColor: "#000", borderWidth: 2 },
    { left: 266, top: 1634, width: 1135, height: 22 },
    { left: 1409.6, top: 1472.7, width: 14.4, height: 154, show: true, borderColor: "#111", borderWidth: 1.5 },
    { left: 101.8, top: 1832.8, width: 458.2, height: 400.9, show: true, borderColor: "#444", borderWidth: 1.5 },
    { left: 678.4, top: 1832.8, width: 458, height: 400.9, show: true, borderColor: "#444", borderWidth: 1.5 },
  ].map((g) => ({ containLabel: false, outerBoundsMode: "none", ...g }));

  const ggLabel = { color: "#4D4D4D", fontFamily: FONT };
  const baseLabel = { color: "#111", fontFamily: FONT };
  const xAxis: any[] = [
    { type: "value", gridIndex: 0, min: -45.7, max: 84.9, splitLine: { show: false }, axisLine: { show: false },
      axisTick: { length: 5, lineStyle: { color: "#333", width: 2 }, customValues: [-40, 0, 40, 80] },
      axisLabel: { ...ggLabel, fontSize: 18, margin: 7, customValues: [-40, 0, 40, 80] },
      name: "PC1(72.76%)", nameLocation: "middle", nameGap: 24, nameTextStyle: { fontFamily: FONT, fontSize: 20, color: "#111" } },
    { type: "value", gridIndex: 1, min: -7.43, max: 11.44, splitLine: { show: false }, axisLine: { show: false },
      axisTick: { length: 3, lineStyle: { color: "#333" }, customValues: [-5, 0, 5, 10] },
      axisLabel: { ...ggLabel, fontSize: 13, margin: 5, customValues: [-5, 0, 5, 10] } },
    hiddenValue(2, 115, 1527),
    hiddenCat(3, ["module"]),
    { type: "category", gridIndex: 4, data: traits, axisLine: { show: false }, axisTick: { show: false }, splitLine: { show: false }, axisLabel: { ...baseLabel, fontSize: 20, margin: 9 } },
    hiddenValue(5, 0, 1),
    hiddenValue(6, -0.08, 4),
    hiddenCat(7, ["module"]),
    hiddenCat(8, modulesE),
    hiddenCat(9, modulesE),
    hiddenValue(10, 0, 1),
    { type: "value", gridIndex: 11, min: 0.2724, max: 1.0253, splitLine: { show: false }, axisLine: { show: false },
      axisTick: { length: 9, lineStyle: { color: "#444", width: 1.5 }, customValues: [0.3, 0.4, 0.5, 0.6, 0.7, 0.8, 0.9, 1.0] },
      axisLabel: { ...baseLabel, fontSize: 20, margin: 17, customValues: [0.3, 0.4, 0.5, 0.6, 0.7, 0.8, 0.9, 1.0], formatter: (v: number) => v.toFixed(1) },
      name: "Module Membership in blue module", nameLocation: "middle", nameGap: 56, nameTextStyle: { fontFamily: FONT, fontSize: 20, color: "#111" } },
    { type: "value", gridIndex: 12, min: 0.1472, max: 1.0299, splitLine: { show: false }, axisLine: { show: false },
      axisTick: { length: 9, lineStyle: { color: "#444", width: 1.5 }, customValues: [0.2, 0.4, 0.6, 0.8, 1.0] },
      axisLabel: { ...baseLabel, fontSize: 20, margin: 17, customValues: [0.2, 0.4, 0.6, 0.8, 1.0], formatter: (v: number) => v.toFixed(1) },
      name: "Module Membership in turquoise module", nameLocation: "middle", nameGap: 56, nameTextStyle: { fontFamily: FONT, fontSize: 20, color: "#111" } },
  ];
  const yAxis: any[] = [
    { type: "value", gridIndex: 0, min: -49, max: 51.4, splitLine: { show: false }, axisLine: { show: false },
      axisTick: { length: 5, lineStyle: { color: "#333", width: 2 }, customValues: [-25, 0, 25, 50] },
      axisLabel: { ...ggLabel, fontSize: 18, margin: 7, customValues: [-25, 0, 25, 50] },
      name: "PC2(5.28%)", nameLocation: "middle", nameGap: 37, nameTextStyle: { fontFamily: FONT, fontSize: 20, color: "#111" } },
    { type: "value", gridIndex: 1, min: -0.52, max: 11.36, splitLine: { show: false }, axisLine: { show: false },
      axisTick: { length: 3, lineStyle: { color: "#333" }, customValues: [0, 3, 6, 9] },
      axisLabel: { ...ggLabel, fontSize: 13, margin: 5, customValues: [0, 3, 6, 9] } },
    { type: "value", gridIndex: 2, min: 0.305, max: 1.0, splitLine: { show: false }, axisLine: { show: false },
      axisTick: { length: 10, lineStyle: { color: "#222", width: 1.5 }, customValues: [0.4, 0.5, 0.6, 0.7, 0.8, 0.9, 1.0] },
      axisLabel: { ...baseLabel, fontSize: 18, margin: 21, rotate: 90, customValues: [0.4, 0.5, 0.6, 0.7, 0.8, 0.9, 1.0], formatter: (v: number) => v.toFixed(1) },
      name: "Height", nameLocation: "middle", nameGap: 58, nameTextStyle: { fontFamily: FONT, fontSize: 18, color: "#111" } },
    { type: "category", gridIndex: 3, data: modulesD, inverse: true, axisLine: { show: false }, axisTick: { show: false }, axisLabel: { ...baseLabel, fontSize: 20, margin: 9 } },
    hiddenCat(4, modulesD, true),
    { type: "value", gridIndex: 5, position: "right", min: -1, max: 1, interval: 0.5, splitLine: { show: false }, axisLine: { show: false },
      axisTick: { length: 10, lineStyle: { color: "#111", width: 1.5 } },
      axisLabel: { ...baseLabel, fontSize: 18, rotate: 90, margin: 15, formatter: (v: number) => (v < 0 ? "−" + Math.abs(v) : String(v)) } },
    { type: "value", gridIndex: 6, min: 0.4, max: 1.6, interval: 0.2, splitLine: { show: false },
      axisLine: { show: true, lineStyle: { color: "#111", width: 2 } }, axisTick: { length: 11, lineStyle: { color: "#111", width: 2 } },
      axisLabel: { ...baseLabel, fontSize: 17, rotate: 90, margin: 23, formatter: (v: number) => (["0.4", "1.0", "1.6"].includes(v.toFixed(1)) ? v.toFixed(1) : "") } },
    hiddenCat(7, modulesE, true),
    hiddenCat(8, modulesE, true),
    hiddenCat(9, ["module"]),
    { type: "value", gridIndex: 10, position: "right", min: 0, max: 1, interval: 0.2, splitLine: { show: false }, axisLine: { show: false },
      axisTick: { length: 8, lineStyle: { color: "#111", width: 1.5 } },
      axisLabel: { ...baseLabel, fontSize: 14, rotate: 90, margin: 8, formatter: (v: number) => String(Number(v.toFixed(1))) } },
    { type: "value", gridIndex: 11, min: 0.1593, max: 1.0224, splitLine: { show: false }, axisLine: { show: false },
      axisTick: { length: 9, lineStyle: { color: "#444", width: 1.5 }, customValues: [0.2, 0.4, 0.6, 0.8, 1.0] },
      axisLabel: { ...baseLabel, fontSize: 20, rotate: 90, margin: 19, customValues: [0.2, 0.4, 0.6, 0.8, 1.0], formatter: (v: number) => v.toFixed(1) },
      name: "Gene significance for AKI", nameLocation: "middle", nameGap: 58, nameTextStyle: { fontFamily: FONT, fontSize: 20, color: "#111" } },
    { type: "value", gridIndex: 12, min: 0.0606, max: 1.0325, splitLine: { show: false }, axisLine: { show: false },
      axisTick: { length: 9, lineStyle: { color: "#444", width: 1.5 }, customValues: [0.2, 0.4, 0.6, 0.8, 1.0] },
      axisLabel: { ...baseLabel, fontSize: 20, rotate: 90, margin: 20, customValues: [0.2, 0.4, 0.6, 0.8, 1.0], formatter: (v: number) => v.toFixed(1) },
      name: "Gene significance for AKI", nameLocation: "middle", nameGap: 59, nameTextStyle: { fontFamily: FONT, fontSize: 20, color: "#111" } },
  ];

  const series: any[] = [];
  // A
  const aMinorX = [-20, 20, 60], aMajorX = [-40, 0, 40, 80], aMinorY = [-37.5, -12.5, 12.5, 37.5], aMajorY = [-25, 0, 25, 50];
  series.push(seg(0, aMinorX.map((v) => [v, -49, v, 51.4]).concat(aMinorY.map((v) => [-45.7, v, 84.9, v])), { stroke: "#EFEFEF", lineWidth: 1.5 }));
  series.push(seg(0, aMajorX.map((v) => [v, -49, v, 51.4]).concat(aMajorY.map((v) => [-45.7, v, 84.9, v])), { stroke: "#EBEBEB", lineWidth: 3 }));
  series.push(seg(0, [[0, -49, 0, 51.4], [-45.7, 0, 84.9, 0]], { stroke: "#000", lineWidth: 3.5, lineDash: [16, 9] }));
  series.push({ type: "line", name: "Control ellipse", xAxisIndex: 0, yAxisIndex: 0, data: ellipseControl, smooth: 0.3, symbol: "none", lineStyle: { color: "#CF3B2F", width: 3 } });
  series.push({ type: "line", name: "AKI ellipse", xAxisIndex: 0, yAxisIndex: 0, data: ellipseAki, smooth: 0.3, symbol: "none", lineStyle: { color: "#3A52AC", width: 3 } });
  series.push({ type: "scatter", name: "Control", xAxisIndex: 0, yAxisIndex: 0, data: pcaControl, symbol: "triangle", symbolSize: 16, itemStyle: { color: "#CC3A2E", opacity: 1 } });
  series.push({ type: "scatter", name: "AKI", xAxisIndex: 0, yAxisIndex: 0, data: pcaAki, symbol: "circle", symbolSize: 13, itemStyle: { color: "#3B50A8", opacity: 1 } });
  // B
  const bMajorX = [-5, 0, 5, 10], bMinorX = [-2.5, 2.5, 7.5], bMajorY = [0, 3, 6, 9], bMinorY = [1.5, 4.5, 7.5, 10.5];
  series.push(seg(1, bMinorX.map((v) => [v, -0.52, v, 11.36]).concat(bMinorY.map((v) => [-7.43, v, 11.44, v])), { stroke: "#F4F4F4", lineWidth: 0.8 }));
  series.push(seg(1, bMajorX.map((v) => [v, -0.52, v, 11.36]).concat(bMajorY.map((v) => [-7.43, v, 11.44, v])), { stroke: "#FFFFFF", lineWidth: 1.4 }));
  series.push(poly(1, downBand, "#6D94CC"));
  series.push(poly(1, downBlob, "#6D94CC"));
  series.push(poly(1, upBand, "#EE6F66"));
  series.push(poly(1, upBlob, "#EE6F66"));
  series.push({ type: "scatter", name: "down-regulated", xAxisIndex: 1, yAxisIndex: 1, data: volcanoDown, symbolSize: 6.7, itemStyle: { color: "#6D94CC", opacity: 1 } });
  series.push({ type: "scatter", name: "up-regulated", xAxisIndex: 1, yAxisIndex: 1, data: volcanoUp, symbolSize: 6.7, itemStyle: { color: "#EE6F66", opacity: 1 } });
  series.push(poly(1, nsBandLeft, "#2BAA3F"));
  series.push(poly(1, nsBandRight, "#2BAA3F"));
  series.push({ type: "scatter", name: "no-significant", xAxisIndex: 1, yAxisIndex: 1, data: volcanoNs, symbolSize: 6.7, itemStyle: { color: "#2BAA3F", opacity: 1 } });
  series.push(seg(1, [[-1, -0.52, -1, 11.36], [1, -0.52, 1, 11.36], [-7.43, 1.3, 11.44, 1.3]], { stroke: "#111", lineWidth: 1.5, lineDash: [16, 6, 3, 6] }));
  series.push(seg(1, [[2.06, 10.02, 2.4, 9.68], [3.42, 9.5, 3.7, 9.23]], { stroke: "#222", lineWidth: 1 }));
  series.push({
    type: "scatter", name: "genes", xAxisIndex: 1, yAxisIndex: 1, symbolSize: 0, silent: true,
    data: geneNames.map((name, i) => ({ name, value: genePositions[i] })),
    label: { show: true, position: "inside", formatter: "{b}", fontFamily: FONT, fontSize: 14, color: "#111" },
  });
  // C
  series.push(seg(2, guideLines.map((g) => [g[0], g[1], g[0], 0.395]), { stroke: "#C8C8C8", lineWidth: 1, lineDash: [1, 9] }));
  series.push(seg(2, [[115, 0.4, 115, 1.0]], { stroke: "#222", lineWidth: 1.5 }));
  [branchTop, branch1, branch2, branch3, branch4, branch5, branch6].forEach((b) => series.push(poly(2, b, "#000")));
  series.push(pline(2, tail1, "#000", 2.5));
  series.push(pline(2, tail2, "#000", 2));
  series.push(seg(2, hangLines.map((h) => [h[0], h[1], h[0], h[2]]), { stroke: "#000", lineWidth: 1 }));
  series.push(seg(2, joinLines, { stroke: "#222", lineWidth: 1 }));
  const stripColors: Record<string, string> = { G: "#BCBCBC", T: "#62C0B9", B: "#1B4A9C", R: "#9C2A2A", Y: "#F1E93A", M: "#3C8DB0", O: "#C9A68A" };
  series.push({
    type: "custom", coordinateSystem: "cartesian2d", xAxisIndex: 2, yAxisIndex: 2, silent: true,
    data: stripSegments.map((s) => [s[0], 0.3816, s[1], 0.305]), encode: { x: [0, 2], y: [1, 3] },
    renderItem: (p: any, api: any) => {
      const a = api.coord([api.value(0), api.value(1)]);
      const b = api.coord([api.value(2), api.value(3)]);
      return { type: "rect", shape: { x: a[0], y: a[1], width: b[0] - a[0], height: b[1] - a[1] }, style: { fill: stripColors[stripSegments[p.dataIndex][2]] } };
    },
  });
  series.push(seg(2, [[168, 0.3764, 1527, 0.3764], [168, 0.306, 1527, 0.306]], { stroke: "#000", lineWidth: 3 }));
  // D
  series.push(catStrip(3, modulesDColors, true));
  const dIndex = series.length;
  series.push({
    type: "heatmap", name: "Module-trait", xAxisIndex: 4, yAxisIndex: 4,
    data: correlations.flatMap((row, y) => row.map((v, x) => [x, y, v])),
    label: {
      show: true, fontFamily: FONT, fontSize: 17, lineHeight: 20, color: "#111",
      formatter: (p: any) => `${corTexts[p.value[1]][p.value[0]]}\n(${pTexts[p.value[1]][p.value[0]]})`,
    },
  });
  series.push(colorBar(5, -1, 1, heatStops));
  // E
  series.push(seg(6, treeThin, { stroke: "#000", lineWidth: 2 }));
  series.push(seg(6, treeThick, { stroke: "#000", lineWidth: 3 }));
  series.push({
    type: "scatter", name: "tree labels", xAxisIndex: 6, yAxisIndex: 6, symbolSize: 0, silent: true, clip: false,
    data: modulesE.map((name, i) => ({ name, value: treeLabelPos[i] })),
    label: { show: true, position: "inside", formatter: "{b}", fontFamily: FONT, fontSize: 18, color: "#111" },
  });
  series.push(catStrip(7, modulesEColors, true));
  const eIndex = series.length;
  series.push({ type: "heatmap", name: "Adjacency", xAxisIndex: 8, yAxisIndex: 8, data: adjacency.flatMap((row, y) => row.map((v, x) => [x, y, v])) });
  series.push(catStrip(9, modulesEColors, false));
  series.push(colorBar(10, 0, 1, heatStops));
  // F
  series.push(poly(11, denseF, "#1B4A9C"));
  series.push({ type: "scatter", name: "blue module", xAxisIndex: 11, yAxisIndex: 11, data: ringsF, symbolSize: 7.5, itemStyle: { color: "transparent", borderColor: "#1B4A9C", borderWidth: 1.2, opacity: 1 } });
  // G
  series.push(poly(12, denseG, "#62C0B9"));
  series.push({ type: "scatter", name: "turquoise module", xAxisIndex: 12, yAxisIndex: 12, data: ringsG, symbolSize: 7.5, itemStyle: { color: "transparent", borderColor: "#62C0B9", borderWidth: 1.2, opacity: 1 } });

  const graphicEls: any[] = [
    letter("A", 39, 21), letter("B", 880, 21), letter("C", 38, 728), letter("D", 1157, 728), letter("E", 38, 1320), letter("F", 37, 1767), letter("G", 611, 1767), letter("H", 1187, 1767),
    // A legend
    { type: "rect", z: 99, shape: { x: 599, y: 91, width: 117, height: 78 }, style: { fill: "#fff" } },
    txt("group", 610, 81, 20, { align: "left" }),
    { type: "line", z: 100, shape: { x1: 614, y1: 113, x2: 639, y2: 113 }, style: { stroke: "#3A52AC", lineWidth: 3 } },
    { type: "circle", z: 100, shape: { cx: 626.5, cy: 113, r: 7 }, style: { fill: "#3B50A8" } },
    txt("AKI", 652, 113, 16, { align: "left" }),
    { type: "line", z: 100, shape: { x1: 614, y1: 146, x2: 639, y2: 146 }, style: { stroke: "#CF3B2F", lineWidth: 3 } },
    { type: "polygon", z: 100, shape: { points: [[626.5, 135], [635, 149], [618, 149]] }, style: { fill: "#CC3A2E" } },
    txt("Control", 652, 144, 16, { align: "left" }),
    // B axis titles and legend
    txt("{a|log}{s|2}{a|(FC)}", 1253, 642, 21, { rich: subRich }),
    txt("{a|−log}{s|10}{a|(adj.P.Val)}", 922, 286, 22, { rich: subRich, rotation: Math.PI / 2 }),
    txt("significant", 1542, 505, 17, { align: "left" }),
    { type: "rect", z: 99, shape: { x: 1542, y: 521.7, width: 28, height: 83.3 }, style: { fill: "#F2F2F2" } },
    { type: "circle", z: 100, shape: { cx: 1556, cy: 535.6, r: 4.5 }, style: { fill: "#6D94CC" } },
    { type: "circle", z: 100, shape: { cx: 1556, cy: 562.9, r: 4.5 }, style: { fill: "#2BAA3F" } },
    { type: "circle", z: 100, shape: { cx: 1556, cy: 590.6, r: 4.5 }, style: { fill: "#EE6F66" } },
    txt("down−regulated", 1579, 535.6, 17, { align: "left" }),
    txt("no−significant", 1579, 562.9, 17, { align: "left" }),
    txt("up−regulated", 1579, 590.6, 17, { align: "left" }),
    // titles
    txt("Cluster Dendrogram", 579, 756, 20),
    txt("Dynamic Tree Cut", 602, 1224, 20),
    txt("Module−trait relationships", 1445, 729, 21),
    txt("Eigengene adjacency heatmap", 820, 1307, 21),
    txt("Module membership vs. gene significance", 317, 1783, 20),
    txt("cor=0.98, p<1e−200", 331, 1806, 20),
    txt("Module membership vs. gene significance", 893, 1783, 20),
    txt("cor=0.99, p<1e−200", 908, 1806, 20),
    // H
    { type: "ellipse", z: 90, shape: { cx: 1464.5, cy: 2021, rx: 263.8, ry: 263.5 }, style: { fill: "#E9E8D3", stroke: "#111", lineWidth: 1.5 } },
    { type: "ellipse", z: 91, shape: { cx: 1543.5, cy: 1942.6, rx: 185.5, ry: 185.2 }, style: { fill: "rgba(242,157,153,0.46)", stroke: "#111", lineWidth: 1.5 } },
    txt("GSE153625 DEGs", 1626, 1740, 26.5, { fill: "#222" }),
    txt("GSE153625 WGCNA module genes", 1451, 2300, 26.5, { fill: "#222" }),
    txt(vennLabels[0], 1363, 2154, 28, { fill: "#111" }),
    txt(vennLabels[1], 1524, 1951, 28, { fill: "#111" }),
    txt(vennLabels[2], 1672, 1836, 28, { fill: "#111" }),
  ];

  return {
    animation: false,
    backgroundColor: "#fff",
    textStyle: { fontFamily: FONT },
    grid: grids,
    xAxis,
    yAxis,
    series,
    visualMap: [
      { type: "continuous", show: false, seriesIndex: dIndex, dimension: 2, min: -1, max: 1, inRange: { color: heatStops } },
      { type: "continuous", show: false, seriesIndex: eIndex, dimension: 2, min: 0, max: 1, inRange: { color: heatStops } },
    ],
    graphic: { elements: graphicEls },
  };
}

export default function App() {
  const ref = useRef<HTMLDivElement>(null);
  useEffect(() => {
    const chart = echarts.init(ref.current as HTMLDivElement, undefined, { renderer: "svg" });
    chart.setOption(buildOption() as any);
    return () => chart.dispose();
  }, []);
  return <div ref={ref} style={{ position: "absolute", left: 0, top: 0, width: 1740, height: 2322 }} />;
}
